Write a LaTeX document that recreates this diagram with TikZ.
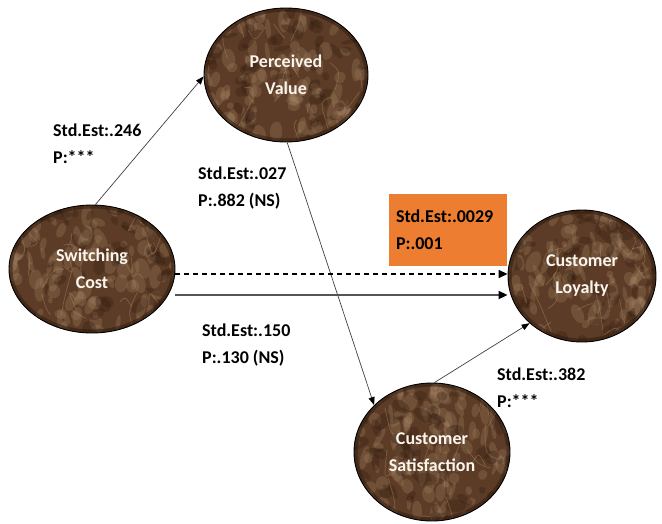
\documentclass[tikz,border=0pt]{standalone}
\usepackage{fontspec}
\setmainfont{Carlito}
\usetikzlibrary{shapes.geometric,arrows.meta}

\definecolor{marbase}{HTML}{5C3C26}
\definecolor{marlight}{HTML}{AD8B6A}
\definecolor{mardark}{HTML}{2C180C}
\definecolor{boxorange}{HTML}{ED7D31}
\definecolor{linegray}{HTML}{404040}
\definecolor{solidgray}{HTML}{555555}
\definecolor{bubbletext}{HTML}{FAF6EE}

% brown marble texture inside an ellipse: centre x, centre y, x radius, y radius, seed
\newcommand{\marblefill}[5]{%
  \begin{scope}
    \clip (#1,#2) ellipse [x radius=#3pt, y radius=#4pt];
    \fill[marbase] (#1,#2) ellipse [x radius=#3pt, y radius=#4pt];
    \pgfmathsetseed{#5}%
    \foreach \k in {1,...,120}{%
      \pgfmathsetmacro{\px}{#1+rand*#3}%
      \pgfmathsetmacro{\py}{#2+rand*#4}%
      \pgfmathsetmacro{\sa}{3+9*rnd}%
      \pgfmathsetmacro{\sb}{2+5*rnd}%
      \pgfmathsetmacro{\rot}{60+60*rnd}%
      \fill[marlight, opacity=0.26] (\px,\py) ellipse [x radius=\sa pt, y radius=\sb pt, rotate=\rot];
    }
    \foreach \k in {1,...,60}{%
      \pgfmathsetmacro{\px}{#1+rand*#3}%
      \pgfmathsetmacro{\py}{#2+rand*#4}%
      \pgfmathsetmacro{\sa}{3+8*rnd}%
      \pgfmathsetmacro{\sb}{2+5*rnd}%
      \pgfmathsetmacro{\rot}{180*rnd}%
      \fill[mardark, opacity=0.28] (\px,\py) ellipse [x radius=\sa pt, y radius=\sb pt, rotate=\rot];
    }
    \foreach \k in {1,...,22}{%
      \pgfmathsetmacro{\px}{#1+rand*#3}%
      \pgfmathsetmacro{\py}{#2+rand*#4}%
      \pgfmathsetmacro{\qx}{\px+rand*14}%
      \pgfmathsetmacro{\qy}{\py+rand*30}%
      \pgfmathsetmacro{\ux}{\qx+rand*14}%
      \pgfmathsetmacro{\uy}{\qy+rand*30}%
      \draw[marlight, opacity=0.4, line width=0.8pt] (\px,\py) .. controls (\qx,\qy) .. (\ux,\uy);
    }
    \draw[mardark, opacity=0.5, line width=7pt] (#1,#2) ellipse [x radius=#3pt, y radius=#4pt];
  \end{scope}}

\begin{document}
\begin{tikzpicture}[x=1pt,y=-1pt,
  every node/.style={font=\fontsize{18}{27}\selectfont\bfseries},
  bubble/.style={ellipse, draw=black, line width=0.9pt, inner sep=0pt,
    text=bubbletext, align=center},
  lbl/.style={anchor=west, inner sep=0pt, align=left, text=black},
  thin arrow/.style={draw=linegray, line width=0.7pt,
    -{Triangle[length=8pt,width=6pt,color=black]}},
  solid arrow/.style={draw=solidgray, line width=2pt,
    -{Triangle[length=9pt,width=8pt,color=black]}},
  dash arrow/.style={draw=black, line width=1.5pt, dash pattern=on 5pt off 4pt,
    -{Triangle[length=9pt,width=8pt,color=black]}},
  estbox/.style={rectangle, fill=boxorange, inner xsep=7pt, inner ysep=0pt,
    minimum width=118pt, minimum height=72pt, text width=104pt, align=left,
    text=black}
]
\useasboundingbox (0,0) rectangle (662,523);

% textured ellipses
\marblefill{286}{75}{82}{67}{11}
\marblefill{92}{269}{83}{64}{23}
\marblefill{582}{276}{74}{66}{37}
\marblefill{432}{452}{78}{69}{41}

% construct nodes
\node[bubble, minimum width=164pt, minimum height=134pt] (pv) at (286,75) {Perceived\\Value};
\node[bubble, minimum width=166pt, minimum height=128pt] (sc) at (92,269) {Switching\\Cost};
\node[bubble, minimum width=148pt, minimum height=132pt] (cl) at (582,276) {Customer\\Loyalty};
\node[bubble, minimum width=156pt, minimum height=138pt] (cs) at (432,452) {Customer\\Satisfaction};

% highlighted estimate
\node[estbox] (ob) at (448,230) {Std.Est:.0029\\P:.001};

% paths
\draw[thin arrow] (sc.87) -- (pv.181);
\draw[thin arrow] (pv.271) -- (cs.141);
\draw[thin arrow] (cs.88) -- (cl.222);

\coordinate (dstart) at ([yshift=-5pt]sc.east);
\coordinate (sstart) at ([yshift=-26pt]sc.east);
\draw[dash arrow] (dstart) -- (dstart -| cl.west);
\draw[solid arrow] (sstart) -- (sstart -| cl.west);

% path estimates
\node[lbl] (e1) at (53,144) {Std.Est:.246\\P:***};
\node[lbl] (e2) at (198,188) {Std.Est:.027\\P:.882 (NS)};
\node[lbl] (e3) at (202,345) {Std.Est:.150\\P:.130 (NS)};
\node[lbl] (e4) at (497,388) {Std.Est:.382\\P:***};
\end{tikzpicture}
\end{document}
